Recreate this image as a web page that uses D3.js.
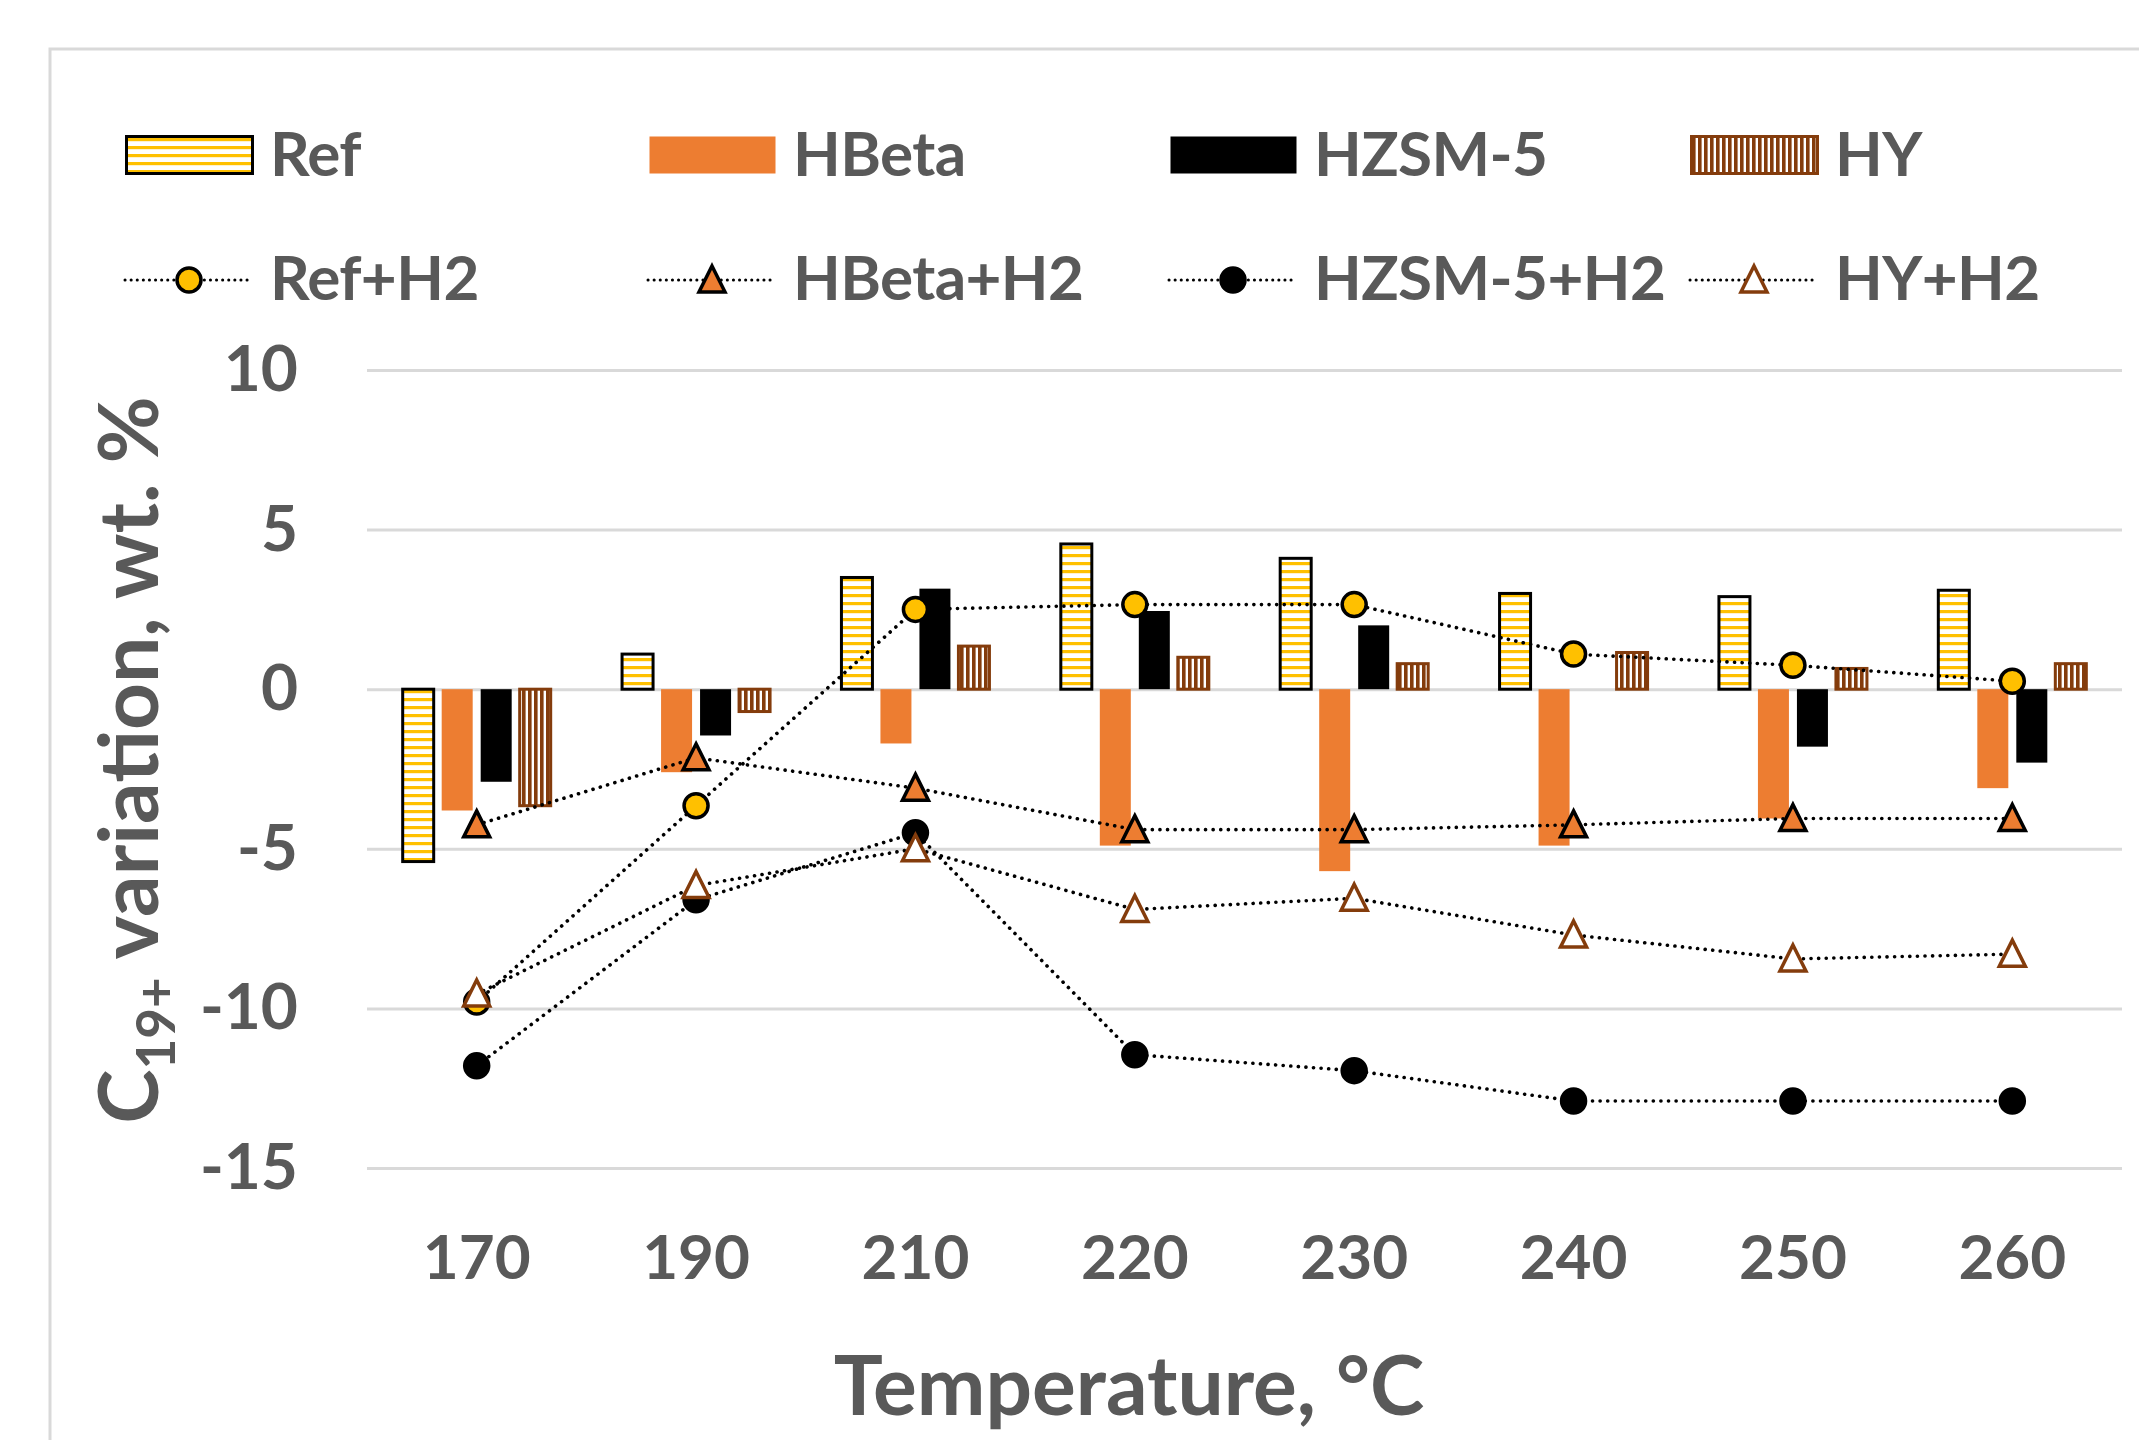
<!DOCTYPE html>
<html>
<head>
<meta charset="utf-8">
<script src="https://cdnjs.cloudflare.com/ajax/libs/d3/7.8.5/d3.min.js"></script>
<style>
  body { margin: 0; background: #fff; }
  text { font-family: Lato, "Open Sans", sans-serif; font-weight: bold; fill: #595959; }
</style>
</head>
<body>
<div id="chart"></div>
<script>
// temperatures on the x axis
var temps = ["170", "190", "210", "220", "230", "240", "250", "260"];

// bar series (C19+ variation, wt. %)
var refBar = [-5.4, 1.1, 3.5, 4.55, 4.1, 3.0, 2.9, 3.1];
var hbetaBar = [-3.8, -2.6, -1.7, -4.9, -5.7, -4.9, -4.05, -3.1];
var hzsmBar = [-2.9, -1.45, 3.15, 2.45, 2.0, null, -1.8, -2.3];
var hyBar = [-3.65, -0.7, 1.35, 1.0, 0.8, 1.15, 0.65, 0.8];

// line series with H2
var refH2 = [-9.8, -3.65, 2.5, 2.65, 2.65, 1.1, 0.75, 0.25];
var hbetaH2 = [-4.25, -2.15, -3.1, -4.4, -4.4, -4.25, -4.05, -4.05];
var hzsmH2 = [-11.8, -6.6, -4.5, -11.45, -11.95, -12.9, -12.9, -12.9];
var hyH2 = [-9.55, -6.15, -5.0, -6.9, -6.55, -7.7, -8.45, -8.3];

var yTicks = [-15, -10, -5, 0, 5, 10];

var svgWidth = 2139, svgHeight = 1440;
var plot = { left: 367, right: 2122, top: 370, bottom: 1168 };

var svg = d3.select("#chart").append("svg")
  .attr("width", svgWidth)
  .attr("height", svgHeight);

// patterns for the hatched bars
var defs = svg.append("defs");
var pRef = defs.append("pattern").attr("id", "refHatch")
  .attr("patternUnits", "userSpaceOnUse").attr("width", 8).attr("height", 8);
pRef.append("rect").attr("width", 8).attr("height", 8).attr("fill", "#fff");
pRef.append("rect").attr("y", 2).attr("width", 8).attr("height", 3.2).attr("fill", "#FFC000");

var pHy = defs.append("pattern").attr("id", "hyHatch")
  .attr("patternUnits", "userSpaceOnUse").attr("width", 6).attr("height", 6);
pHy.append("rect").attr("width", 6).attr("height", 6).attr("fill", "#843C0C");
pHy.append("rect").attr("x", 3.6).attr("width", 2.4).attr("height", 6).attr("fill", "#fff");

// chart frame
svg.append("rect")
  .attr("x", 50).attr("y", 49)
  .attr("width", 2300).attr("height", 1600)
  .attr("fill", "none").attr("stroke", "#D9D9D9").attr("stroke-width", 3);

// scales
var xScale = d3.scaleBand().domain(temps).range([plot.left, plot.right]);
var yScale = d3.scaleLinear().domain([-15, 10]).range([plot.bottom, plot.top]);

var barSeries = [
  { name: "Ref", values: refBar, fill: "url(#refHatch)", stroke: "#000" },
  { name: "HBeta", values: hbetaBar, fill: "#ED7D31", stroke: "none" },
  { name: "HZSM-5", values: hzsmBar, fill: "#000", stroke: "none" },
  { name: "HY", values: hyBar, fill: "url(#hyHatch)", stroke: "#843C0C" }
];
var lineSeries = [
  { name: "Ref+H2", values: refH2, shape: "circle", fill: "#FFC000", stroke: "#000" },
  { name: "HBeta+H2", values: hbetaH2, shape: "triangle", fill: "#ED7D31", stroke: "#000" },
  { name: "HZSM-5+H2", values: hzsmH2, shape: "circle", fill: "#000", stroke: "#000" },
  { name: "HY+H2", values: hyH2, shape: "triangle", fill: "#fff", stroke: "#843C0C" }
];

var groupWidth = 156;
var x1 = d3.scaleBand().domain(barSeries.map(d => d.name)).range([0, groupWidth]);
var barWidth = 31;

// gridlines
svg.append("g")
  .attr("transform", `translate(${plot.left}, 0)`)
  .call(d3.axisLeft(yScale).tickValues(yTicks).tickSize(-(plot.right - plot.left)).tickFormat(""))
  .call(g => g.select(".domain").remove())
  .call(g => g.selectAll("line").attr("stroke", "#D9D9D9").attr("stroke-width", 3));

// y axis labels (plain hyphen for negatives, as in the original)
svg.append("g")
  .attr("transform", `translate(${plot.left}, 0)`)
  .call(d3.axisLeft(yScale).tickValues(yTicks).tickSize(0).tickPadding(69).tickFormat(d => String(d)))
  .call(g => g.select(".domain").remove())
  .call(g => g.selectAll("text").attr("font-size", 64).attr("fill", "#595959")
    .style("font-family", "Lato, sans-serif").style("font-weight", "bold"));

// x axis labels
svg.append("g")
  .attr("transform", `translate(0, ${plot.bottom})`)
  .call(d3.axisBottom(xScale).tickSize(0).tickPadding(67))
  .call(g => g.select(".domain").remove())
  .call(g => g.selectAll("text").attr("font-size", 62).attr("fill", "#595959")
    .style("font-family", "Lato, sans-serif").style("font-weight", "bold"));

// bars
barSeries.forEach(s => {
  svg.append("g").selectAll("rect")
    .data(temps.map((t, i) => ({ t: t, v: s.values[i] })).filter(d => d.v != null))
    .enter()
    .append("rect")
    .attr("x", d => xScale(d.t) + xScale.bandwidth() / 2 - groupWidth / 2 + x1(s.name) + (x1.bandwidth() - barWidth) / 2)
    .attr("y", d => yScale(Math.max(0, d.v)))
    .attr("width", barWidth)
    .attr("height", d => Math.abs(yScale(d.v) - yScale(0)))
    .attr("fill", s.fill)
    .attr("stroke", s.stroke)
    .attr("stroke-width", s.stroke == "none" ? 0 : 3);
});

// marker path helper
function markerPath(shape) {
  if (shape == "circle") return d3.symbol().type(d3.symbolCircle).size(Math.PI * 12 * 12)();
  return "M0,-14L13,12L-13,12Z";
}

// dotted lines + markers
var line = d3.line()
  .x(d => xScale(d.t) + xScale.bandwidth() / 2)
  .y(d => yScale(d.v));

lineSeries.forEach(s => {
  var pts = temps.map((t, i) => ({ t: t, v: s.values[i] }));
  svg.append("path")
    .datum(pts)
    .attr("d", line)
    .attr("fill", "none")
    .attr("stroke", "#000")
    .attr("stroke-width", 3.6)
    .attr("stroke-linecap", "round")
    .attr("stroke-dasharray", "0.1,7.5");
});
lineSeries.forEach(s => {
  var pts = temps.map((t, i) => ({ t: t, v: s.values[i] }));
  svg.append("g").selectAll("path")
    .data(pts)
    .enter()
    .append("path")
    .attr("d", markerPath(s.shape))
    .attr("transform", d => `translate(${xScale(d.t) + xScale.bandwidth() / 2}, ${yScale(d.v)})`)
    .attr("fill", s.fill)
    .attr("stroke", s.stroke)
    .attr("stroke-width", 3.5);
});

// legend
var legendX = [125, 648, 1169, 1690];
var legend = svg.append("g");
barSeries.forEach((s, i) => {
  legend.append("rect")
    .attr("x", legendX[i] + 1.5).attr("y", 136.5)
    .attr("width", 126).attr("height", 37)
    .attr("fill", s.fill)
    .attr("stroke", s.stroke)
    .attr("stroke-width", s.stroke == "none" ? 0 : 3);
  legend.append("text")
    .attr("x", legendX[i] + 145).attr("y", 176)
    .attr("font-size", 62)
    .attr("letter-spacing", -0.6)
    .text(s.name);
});
lineSeries.forEach((s, i) => {
  legend.append("line")
    .attr("x1", legendX[i]).attr("x2", legendX[i] + 126)
    .attr("y1", 280).attr("y2", 280)
    .attr("stroke", "#000").attr("stroke-width", 3)
    .attr("stroke-linecap", "round").attr("stroke-dasharray", "0.1,6");
  legend.append("path")
    .attr("d", markerPath(s.shape))
    .attr("transform", `translate(${legendX[i] + 64}, 280)`)
    .attr("fill", s.fill)
    .attr("stroke", s.stroke)
    .attr("stroke-width", 3.5);
  legend.append("text")
    .attr("x", legendX[i] + 145).attr("y", 300)
    .attr("font-size", 62)
    .attr("letter-spacing", -0.6)
    .text(s.name);
});

// axis titles
svg.append("text")
  .attr("x", 1129).attr("y", 1415)
  .attr("text-anchor", "middle")
  .attr("font-size", 82)
  .text("Temperature, °C");

var yTitle = svg.append("text")
  .attr("transform", "translate(158, 760) rotate(-90)")
  .attr("text-anchor", "middle")
  .attr("font-size", 82);
yTitle.append("tspan").text("C");
yTitle.append("tspan").attr("font-size", 53).attr("dy", 17).text("19+");
yTitle.append("tspan").attr("dy", -17).text(" variation, wt. %");
</script>
</body>
</html>
